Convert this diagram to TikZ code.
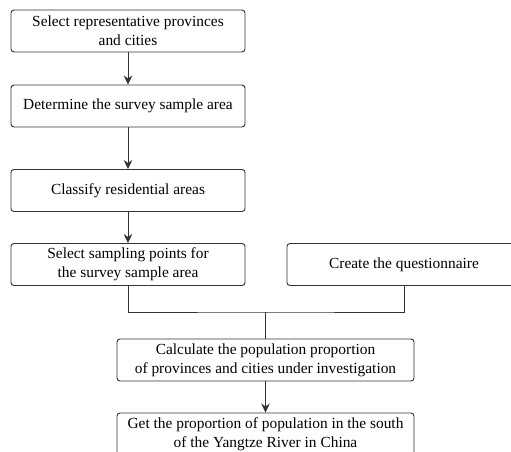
\documentclass[tikz,border=0pt]{standalone}
\usepackage{fontspec}
\setmainfont{Liberation Serif}
\usetikzlibrary{arrows.meta}
\begin{document}
\begin{tikzpicture}[x=1pt, y=-1pt,
    box/.style={draw=black!80, rectangle, rounded corners=3pt, line width=0.9pt, align=center,
        minimum width=234pt, minimum height=42pt, inner sep=0pt, font=\fontsize{15.4}{19}\selectfont},
    widebox/.style={box, minimum width=297pt},
    link/.style={draw=black!80, line width=0.9pt},
    arrow/.style={link, -{Stealth[length=9pt, width=8.5pt]}}]
    \useasboundingbox (0,0) rectangle (511,452);
    \clip (0,0) rectangle (511,452);
    % Sampling steps
    \node[box] (provinces) at (128,31) {Select representative provinces\\and cities};
    \node[box] (area) at (128,106) {Determine the survey sample area};
    \node[box] (classify) at (128,190.5) {Classify residential areas};
    \node[box] (points) at (128,264.5) {Select sampling points for\\the survey sample area};
    
    % Questionnaire
    \node[box] (quest) at (404,264.5) {Create the questionnaire};
    
    % Results
    \node[widebox] (calc) at (265.5,360) {Calculate the population proportion\\of provinces and cities under investigation};
    \node[widebox] (result) at (265.5,434) {Get the proportion of population in the south\\of the Yangtze River in China};
    
    % Connections
    \draw[arrow] (provinces) -- (area);
    \draw[arrow] (area) -- (classify);
    \draw[arrow] (classify) -- (points);
    
    \coordinate (join) at (265.5,312);
    \draw[link] (points.south) |- (join) -| (quest.south);
    \draw[link] (join) -- (calc.north);
    \draw[arrow] (calc) -- (result);
    
\end{tikzpicture}
\end{document}
